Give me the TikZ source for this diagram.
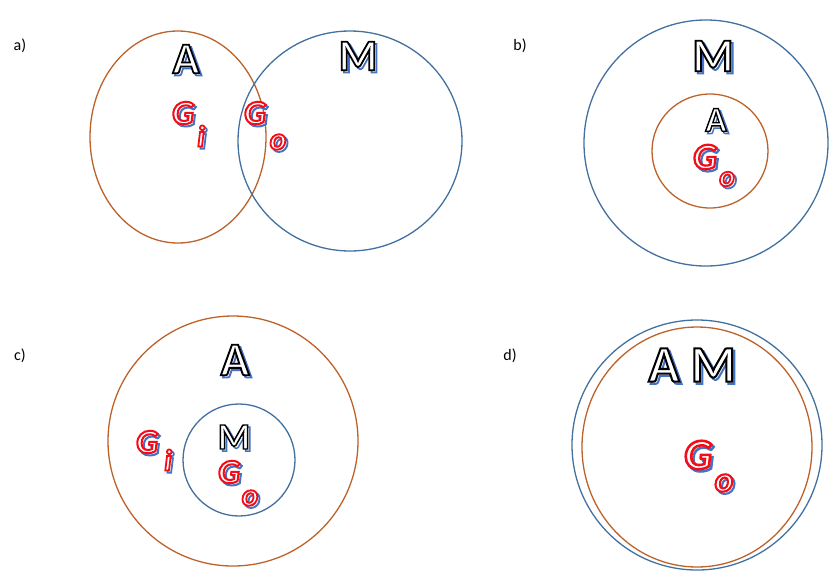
\documentclass[tikz,border=0pt]{standalone}
\usepackage{fontspec}
\setmainfont{Carlito}
\newfontface\rimup{Carlito Bold}[FakeBold=4]
\newfontface\rimit{Carlito Bold Italic}[FakeBold=6]
\definecolor{setorange}{RGB}{188,98,42}
\definecolor{setblue}{RGB}{66,113,160}
\usetikzlibrary{calc}

% stroked glyphs: white fill, stroke colour given as PDF rgb triple
\newcommand\rimtext[2]{\textcolor{white}{\special{pdf:literal direct #1 RG}#2}}
% glyph with a blue drop shadow: name, position, stroke rgb, font, text
\newcommand\shadowtext[5]{%
  \node[font=#4] (#1s) at ($#2+(2.2,2.2)$) {\rimtext{0.267 0.447 0.769}{#5}};
  \node[font=#4] (#1) at #2 {\rimtext{#3}{#5}};}
\newcommand\upsz[1]{\fontsize{#1}{#1}\rimup}
\newcommand\itsz[1]{\fontsize{#1}{#1}\rimit}
\def\ink{0 0 0}
\def\red{0.95 0.05 0.1}

\tikzset{
  setA/.style={draw=setorange, line width=1.3pt},
  setM/.style={draw=setblue, line width=1.3pt},
  panel/.style={font=\fontsize{16}{18}\selectfont, anchor=center},
}

\begin{document}
\begin{tikzpicture}[x=1pt, y=-1pt, inner sep=0pt]
\useasboundingbox (0,0) rectangle (830,571);

% ---- a) partial overlap
\node[panel] (la) at (20,46) {a)};
\draw[setA] (178,137) ellipse [x radius=88, y radius=106];
\draw[setM] (350,141) ellipse [x radius=112, y radius=110];
\shadowtext{aA}{(186,59)}{\ink}{\upsz{44}}{A}
\shadowtext{aM}{(358,56)}{\ink}{\upsz{44}}{M}
\shadowtext{aGi}{(183,113)}{\red}{\itsz{34}}{G}
\shadowtext{ai}{(201,136)}{\red}{\itsz{30}}{i}
\shadowtext{aGo}{(255,113)}{\red}{\itsz{34}}{G}
\shadowtext{ao}{(278,142)}{\red}{\itsz{31}}{o}

% ---- b) A inside M
\node[panel] (lb) at (520,46) {b)};
\draw[setM] (706,143) ellipse [x radius=122, y radius=123];
\draw[setA] (710,151) ellipse [x radius=58, y radius=57];
\shadowtext{bM}{(713,56)}{\ink}{\upsz{47}}{M}
\shadowtext{bA}{(716,120)}{\ink}{\upsz{35}}{A}
\shadowtext{bGo}{(705,157)}{\red}{\itsz{37}}{G}
\shadowtext{bo}{(727,179)}{\red}{\itsz{29}}{o}

% ---- c) M inside A
\node[panel] (lc) at (20,356) {c)};
\draw[setA] (233,441) ellipse [x radius=125, y radius=125];
\draw[setM] (239,460) ellipse [x radius=56, y radius=56];
\shadowtext{cA}{(235,360)}{\ink}{\upsz{47}}{A}
\shadowtext{cM}{(234,437)}{\ink}{\upsz{37}}{M}
\shadowtext{cGi}{(147,442)}{\red}{\itsz{34}}{G}
\shadowtext{ci}{(168,460)}{\red}{\itsz{30}}{i}
\shadowtext{cGo}{(229,472)}{\red}{\itsz{34}}{G}
\shadowtext{co}{(250,498)}{\red}{\itsz{31}}{o}

% ---- d) A equals M
\node[panel] (ld) at (510,356) {d)};
\draw[setM] (697,445) ellipse [x radius=125, y radius=125];
\draw[setA] (697,447) ellipse [x radius=115, y radius=120];
\shadowtext{dAM}{(692,365)}{\ink}{\upsz{51}}{A M}
\shadowtext{dGo}{(698,455)}{\red}{\itsz{43}}{G}
\shadowtext{do}{(724,483)}{\red}{\itsz{35}}{o}
\end{tikzpicture}
\end{document}
